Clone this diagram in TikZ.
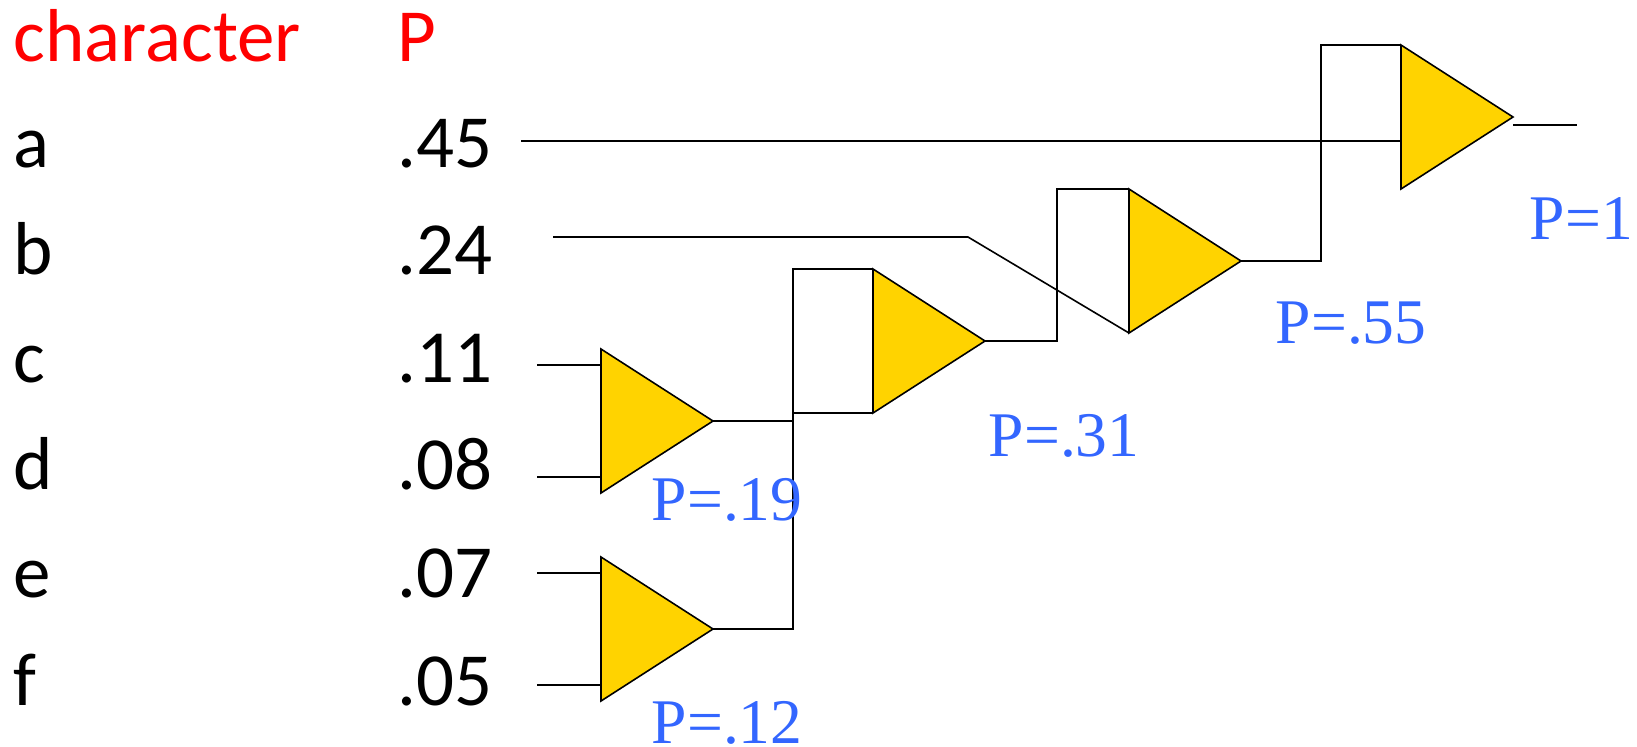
\documentclass[tikz,border=0pt]{standalone}
\usepackage{fontspec}
\setmainfont{Carlito}
\newfontfamily\labelfont{Liberation Serif}
\usetikzlibrary{shapes.geometric}
\definecolor{gateyellow}{HTML}{FFD300}
\definecolor{labelblue}{HTML}{3366FF}
\begin{document}
\begin{tikzpicture}[x=0.5pt,y=-0.5pt,line width=0.8pt,node distance=53.8pt,
                    gate node/.style={isosceles triangle,isosceles triangle stretches,draw,fill=gateyellow,
                      minimum width=72pt,minimum height=56pt,inner sep=0pt,outer sep=0pt,anchor=apex},
                    row node/.style={inner sep=0pt,text height=26pt,text depth=0pt,font=\fontsize{37.5}{40}\selectfont,align=left},
                    char node/.style={row node,text width=150pt},
                    prob node/.style={row node,text width=50pt},
                    label node/.style={inner sep=0pt,anchor=base west,text depth=0pt,text=labelblue,font=\labelfont\fontsize{31.8}{36}\selectfont}]
  \useasboundingbox (0,0) rectangle (1637,746);
  % table
  \node[char node,text=red,anchor=base west] (head) at (13,61) {character};
  \node[prob node,text=red,right of=head,node distance=142pt] (phead) {P};
  \node[char node] (a) [below of=head,node distance=53pt] {a};
  \node[char node] (b) [below of=a] {b};
  \node[char node] (c) [below of=b] {c};
  \node[char node] (d) [below of=c] {d};
  \node[char node] (e) [below of=d] {e};
  \node[char node] (f) [below of=e] {f};
  \node[prob node] (pa) [below of=phead,node distance=53pt] {.45};
  \node[prob node] (pb) [below of=pa] {.24};
  \node[prob node] (pc) [below of=pb] {.11};
  \node[prob node] (pd) [below of=pc] {.08};
  \node[prob node] (pe) [below of=pd] {.07};
  \node[prob node] (pf) [below of=pe] {.05};
  % free ends of the wires
  \coordinate (a start) at (521,141);
  \coordinate (a in) at (1400,141);
  \coordinate (b start) at (553,237);
  \coordinate (b bend) at (968,237);
  \coordinate (c start) at (537,365);
  \coordinate (c in) at (601,365);
  \coordinate (d start) at (537,477);
  \coordinate (d in) at (601,477);
  \coordinate (e start) at (537,573);
  \coordinate (e in) at (601,573);
  \coordinate (f start) at (537,685);
  \coordinate (f in) at (601,685);
  \coordinate (join) at (793,420);
  \coordinate (join low) at (793,413);
  \coordinate (out start) at (1513,125);
  \coordinate (out end) at (1577,125);
  % gates
  \node[gate node] (g1) at (713,421) {};
  \node[gate node] (g2) at (713,629) {};
  \node[gate node] (g3) at (985,341) {};
  \node[gate node] (g4) at (1241,261) {};
  \node[gate node] (g5) at (1513,117) {};
  % wires
  \path
    (a start) edge (a in)
    (c start) edge (c in)
    (d start) edge (d in)
    (e start) edge (e in)
    (f start) edge (f in)
    (g1.apex) edge (join |- g1.apex)
    (join low) edge (g3.right corner)
    (out start) edge (out end);
  \draw (b start) -- (b bend) -- (g4.right corner);
  \draw (g2.apex) -| (join) |- (g3.left corner);
  \draw (g3.apex) -- ++(72,0) |- (g4.left corner);
  \draw (g4.apex) -- ++(80,0) |- (g5.left corner);
  % labels
  \node[label node] (l1) at (651,520) {P=.19};
  \node[label node] (l2) at (651,743) {P=.12};
  \node[label node] (l3) at (988,456) {P=.31};
  \node[label node] (l4) at (1275,343) {P=.55};
  \node[label node] (l5) at (1529,239) {P=1};
\end{tikzpicture}
\end{document}
